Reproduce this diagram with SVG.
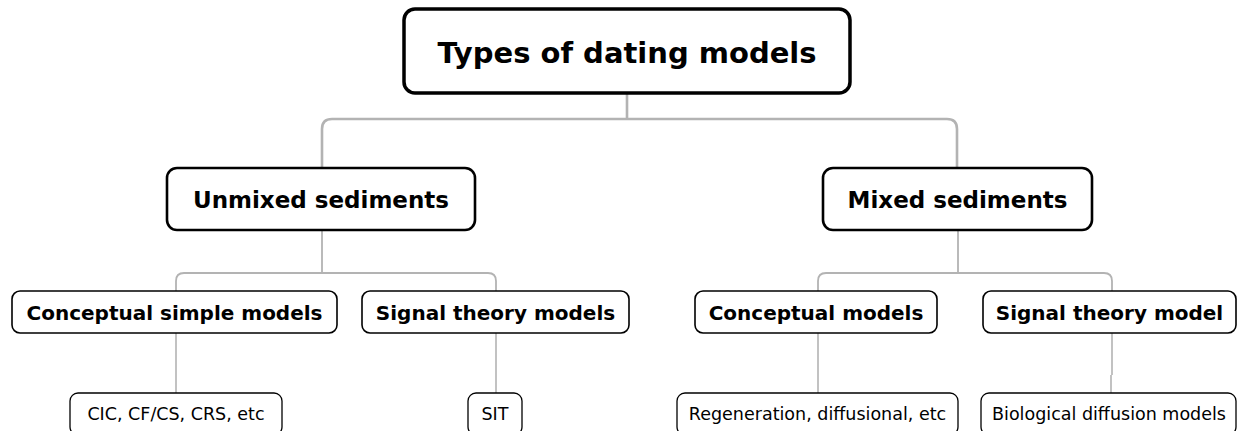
<svg xmlns="http://www.w3.org/2000/svg" width="1238" height="431" viewBox="0 0 1238 431">
<style>
.box{fill:#fff;stroke:#000}
.l1{stroke-width:3.5}
.l2{stroke-width:2.6}
.l3{stroke-width:1.6}
.l4{stroke-width:1.3}
text{font-family:"DejaVu Sans","Verdana",sans-serif;text-anchor:middle;fill:#000}
.b{font-weight:bold}
.c{fill:none;stroke:#b3b3b3}
</style>
<rect width="1238" height="431" fill="#fff"/>
<g id="connectors">
<path class="c" stroke-width="2.6" d="M627,93 V119 M322,168 V129 Q322,119 332,119 H947 Q957,119 957,129 V168"/>
<path class="c" stroke-width="1.8" d="M322,230 V273 M176,291 V281 Q176,273 184,273 H488 Q496,273 496,281 V291"/>
<path class="c" stroke-width="1.8" d="M958,230 V273 M818,291 V281 Q818,273 826,273 H1104 Q1112,273 1112,281 V291"/>
<path class="c" stroke-width="1.6" d="M176,333 V393 M496,333 V393 M818,333 V393 M1112,333 V375 M1111,375 V393"/>
</g>
<g id="root">
<rect class="box l1" x="404" y="9" width="446" height="84" rx="11"/>
<text class="b" x="627" y="63" font-size="29">Types of dating models</text>
</g>
<g id="unmixed">
<rect class="box l2" x="167" y="168" width="308" height="62" rx="10"/>
<text class="b" x="321" y="208" font-size="23">Unmixed sediments</text>
</g>
<g id="mixed">
<rect class="box l2" x="823" y="168" width="269" height="62" rx="10"/>
<text class="b" x="957.5" y="208" font-size="23">Mixed sediments</text>
</g>
<g id="conceptual-simple">
<rect class="box l3" x="12" y="291" width="325" height="42" rx="8"/>
<text class="b" x="174.5" y="320" font-size="20">Conceptual simple models</text>
</g>
<g id="signal-theory-models">
<rect class="box l3" x="362" y="291" width="267" height="42" rx="8"/>
<text class="b" x="495.5" y="320" font-size="20">Signal theory models</text>
</g>
<g id="conceptual">
<rect class="box l3" x="695" y="291" width="242" height="42" rx="8"/>
<text class="b" x="816" y="320" font-size="20">Conceptual models</text>
</g>
<g id="signal-theory-model">
<rect class="box l3" x="983" y="291" width="253" height="42" rx="8"/>
<text class="b" x="1109.5" y="320" font-size="20">Signal theory model</text>
</g>
<g id="cic">
<rect class="box l4" x="70" y="393" width="212" height="42" rx="8"/>
<text x="176" y="420" font-size="17.5">CIC, CF/CS, CRS, etc</text>
</g>
<g id="sit">
<rect class="box l4" x="468" y="393" width="54" height="42" rx="8"/>
<text x="495" y="420" font-size="17.5">SIT</text>
</g>
<g id="regeneration">
<rect class="box l4" x="677" y="393" width="281" height="42" rx="8"/>
<text x="817.5" y="420" font-size="17.5">Regeneration, diffusional, etc</text>
</g>
<g id="biological">
<rect class="box l4" x="981" y="393" width="255" height="42" rx="8"/>
<text x="1109" y="420" font-size="17.5">Biological diffusion models</text>
</g>
</svg>
